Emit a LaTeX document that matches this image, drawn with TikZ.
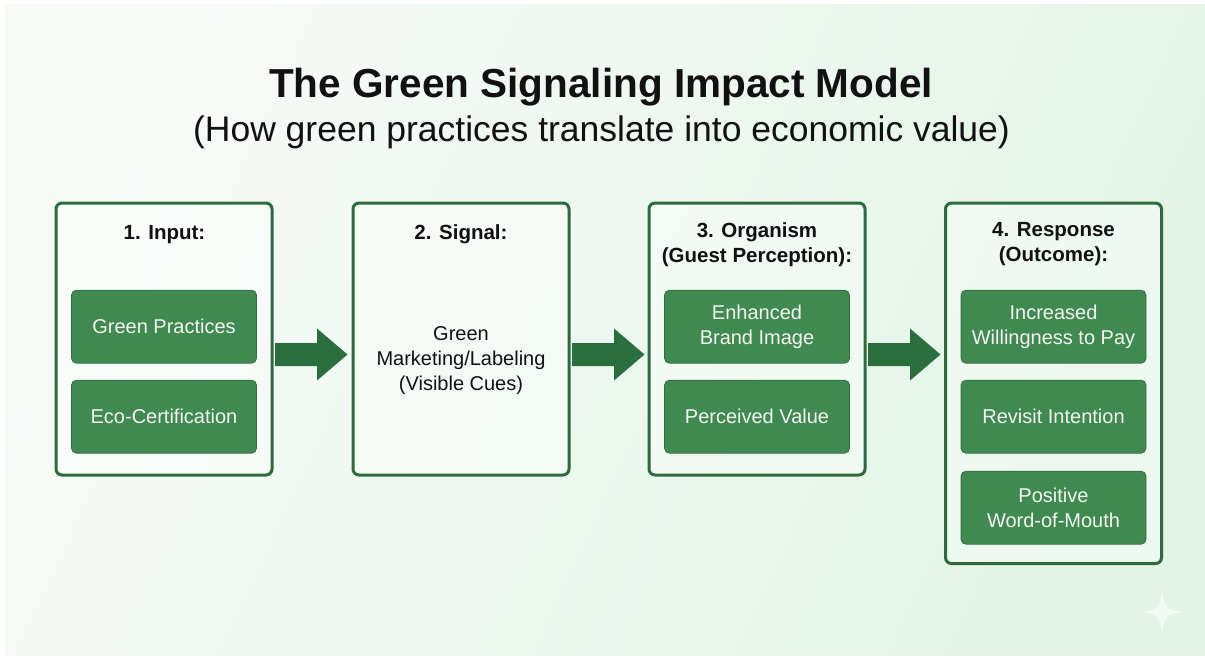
\documentclass[tikz,border=0pt]{standalone}
\usepackage{fontspec}
\setmainfont{Liberation Sans}
\usetikzlibrary{calc}
\definecolor{bgA}{HTML}{F8FAF8}
\definecolor{bgB}{HTML}{E2F4E6}
\definecolor{boxc}{HTML}{2E6B3C}
\definecolor{itemc}{HTML}{408A52}
\definecolor{itemb}{HTML}{2F6E40}
\definecolor{itemt}{HTML}{F3F5EF}
\definecolor{arrc}{HTML}{2B6E3E}
\definecolor{titc}{HTML}{111111}
\tikzset{
  panel/.style={draw=boxc, line width=3pt, rounded corners=6pt, fill=white,
    fill opacity=0.4, minimum width=216pt, minimum height=272pt, inner sep=0pt},
  item/.style={draw=itemb, line width=0.8pt, fill=itemc, rounded corners=5pt,
    minimum width=185pt, minimum height=73pt, text=itemt,
    font=\fontsize{20}{25}\selectfont, align=center, inner sep=0pt},
  ptitle/.style={font=\bfseries\fontsize{20.5}{25}\selectfont, align=center,
    text=titc, inner sep=0pt},
  flow/.style={fill=arrc}
}
\begin{document}
\begin{tikzpicture}[x=1pt,y=-1pt]
\useasboundingbox (0,0) rectangle (1205,657);
\fill[white] (0,0) rectangle (1205,657);
\shade[top color=bgA, bottom color=bgB, shading angle=65] (5,4) rectangle (1205,655);

% sparkle
\fill[white, opacity=0.6] (1162,592) .. controls (1165,609) .. (1182,612)
  .. controls (1165,615) .. (1162,632) .. controls (1159,615) .. (1142,612)
  .. controls (1159,609) .. (1162,592) -- cycle;

% titles
\node[font=\bfseries\fontsize{40.5}{48}\selectfont, text=titc, anchor=base, inner sep=0pt] (title) at (601,97) {The Green Signaling Impact Model};
\node[font=\fontsize{35.5}{42}\selectfont, text=titc, anchor=base, inner sep=0pt] (sub) at (601.5,141) {(How green practices translate into economic value)};

% panels
\node[panel] (b1) at (164,339) {};
\node[panel] (b2) at (461,339) {};
\node[panel] (b3) at (757,339) {};
\node[panel, minimum height=360.5pt] (b4) at (1053.5,383.3) {};

% panel titles
\node[ptitle, anchor=base] (t1) at (164.5,239) {1. Input:};
\node[ptitle, anchor=base] (t2) at (461,239) {2. Signal:};
\node[ptitle, anchor=north] (t3) at (757,222) {3. Organism\\(Guest Perception):};
\node[ptitle, anchor=north] (t4) at (1053.5,222) {4. Response\\(Outcome):};

% items
\node[item] (g1) at (164,326.7) {Green Practices};
\node[item] (g2) at (164,416.7) {Eco-Certification};
\node[font=\fontsize{20}{25}\selectfont, align=center, text=titc, inner sep=0pt] (s1) at (461,361) {Green\\Marketing/Labeling\\(Visible Cues)};
\node[item] (o1) at (757,326.7) {Enhanced\\Brand Image};
\node[item] (o2) at (757,416.7) {Perceived Value};
\node[item] (r1) at (1053.5,326.7) {Increased\\Willingness to Pay};
\node[item] (r2) at (1053.5,416.7) {Revisit Intention};
\node[item] (r3) at (1053.5,507.7) {Positive\\Word-of-Mouth};

% arrows
\foreach \a/\b in {b1/b2, b2/b3, b3/b4}{
  \coordinate (s) at ($(\a.east)+(1.5,15.5)$);
  \fill[flow] (s) ++(0,-11.5) -- ++(42,0) -- ++(0,-14.5) -- ++(30.5,26)
    -- ++(-30.5,26) -- ++(0,-14.5) -- ++(-42,0) -- cycle;
}
\end{tikzpicture}
\end{document}
